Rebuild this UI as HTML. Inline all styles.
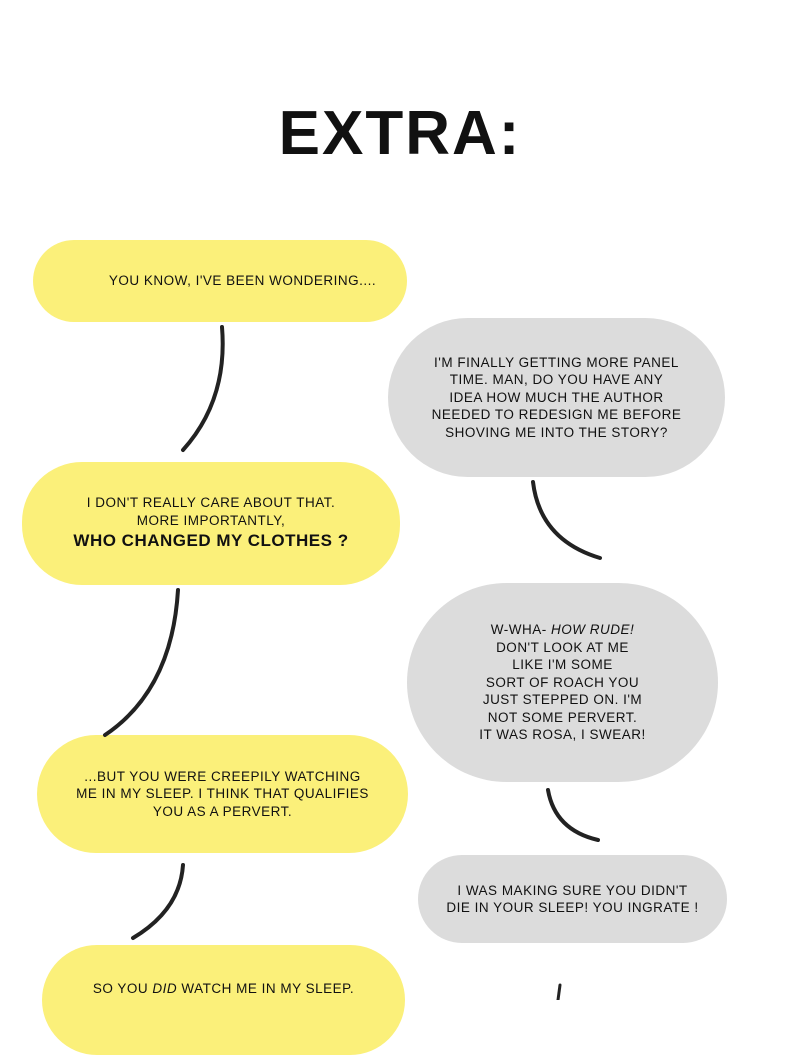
<!DOCTYPE html>
<html><head><meta charset="utf-8"><style>
body{margin:0;width:800px;height:1000px;background:#fff;position:relative;overflow:hidden;font-family:"Liberation Sans",sans-serif;}
.t{position:absolute;font-size:62px;font-weight:bold;left:0;width:800px;text-align:center;top:98px;letter-spacing:2px;color:#111}
.b{position:absolute;border-radius:60px;display:flex;align-items:center;justify-content:center;text-align:center;font-size:13.5px;line-height:17.5px;color:#111;letter-spacing:0.5px}
.b>div{display:block}
.y{background:#fbf07a}
.g{background:#dcdcdc}
svg{position:absolute;left:0;top:0}
</style></head><body>
<div class="t">EXTRA:</div>
<div class="b y" style="left:33px;top:240px;width:374px;height:82px;border-radius:41px"><div style="margin-left:45px">YOU KNOW, I'VE BEEN WONDERING....</div></div>
<div class="b g" style="left:388px;top:318px;width:337px;height:159px;border-radius:80px"><div>I'M FINALLY GETTING MORE PANEL<br>TIME. MAN, DO YOU HAVE ANY<br>IDEA HOW MUCH THE AUTHOR<br>NEEDED TO REDESIGN ME BEFORE<br>SHOVING ME INTO THE STORY?</div></div>
<div class="b y" style="left:22px;top:462px;width:378px;height:123px"><div>I DON'T REALLY CARE ABOUT THAT.<br>MORE IMPORTANTLY,<br><b style="font-size:17px;line-height:24px">WHO CHANGED MY CLOTHES ?</b></div></div>
<div class="b g" style="left:407px;top:583px;width:311px;height:199px;border-radius:100px"><div>W-WHA- <i>HOW RUDE!</i><br>DON'T LOOK AT ME<br>LIKE I'M SOME<br>SORT OF ROACH YOU<br>JUST STEPPED ON. I'M<br>NOT SOME PERVERT.<br>IT WAS ROSA, I SWEAR!</div></div>
<div class="b y" style="left:37px;top:735px;width:371px;height:118px"><div>...BUT YOU WERE CREEPILY WATCHING<br>ME IN MY SLEEP. I THINK THAT QUALIFIES<br>YOU AS A PERVERT.</div></div>
<div class="b g" style="left:418px;top:855px;width:309px;height:88px;border-radius:44px"><div>I WAS MAKING SURE YOU DIDN'T<br>DIE IN YOUR SLEEP! YOU INGRATE !</div></div>
<div class="b y" style="left:42px;top:945px;width:363px;height:110px;align-items:flex-start"><div style="margin-top:35px">SO YOU <i>DID</i> WATCH ME IN MY SLEEP.</div></div>
<svg width="800" height="1000" fill="none" stroke="#222" stroke-linecap="round">
<path d="M222 327 Q228 400 183 450" stroke-width="4"/>
<path d="M533 482 Q540 540 600 558" stroke-width="4"/>
<path d="M178 590 Q172 690 105 735" stroke-width="4"/>
<path d="M548 790 Q555 830 598 840" stroke-width="4"/>
<path d="M183 865 Q180 910 133 938" stroke-width="4"/>
<path d="M560 985 L558 1000" stroke-width="3"/>
</svg>
</body></html>
